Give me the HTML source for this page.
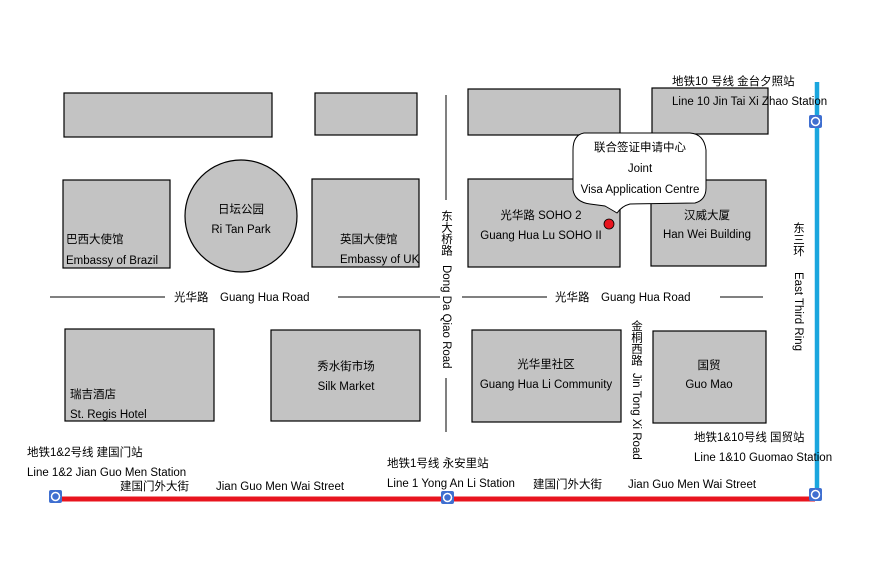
<!DOCTYPE html>
<html><head><meta charset="utf-8"><style>
body{margin:0;background:#fff;}
svg text{font-family:"Liberation Sans","Noto Sans CJK SC",sans-serif;font-size:11.5px;fill:#000;}
</style></head><body>
<svg width="881" height="567" viewBox="0 0 881 567" xmlns="http://www.w3.org/2000/svg">
<g fill="#c3c3c3" stroke="#000" stroke-width="1.2">
<rect x="64" y="93" width="208" height="44"/>
<rect x="315" y="93" width="102" height="42"/>
<rect x="468" y="89" width="152" height="46"/>
<rect x="652" y="88" width="116" height="46"/>
<rect x="63" y="180" width="107" height="88"/>
<circle cx="241" cy="216" r="56"/>
<rect x="312" y="179" width="107" height="88"/>
<rect x="468" y="179" width="152" height="88"/>
<rect x="651" y="180" width="115" height="86"/>
<rect x="65" y="329" width="149" height="92"/>
<rect x="271" y="330" width="149" height="91"/>
<rect x="472" y="330" width="149" height="92"/>
<rect x="653" y="331" width="113" height="92"/>
</g>
<g stroke="#000" stroke-width="1">
<line x1="446" y1="95" x2="446" y2="200"/>
<line x1="446" y1="378" x2="446" y2="432"/>
<line x1="50" y1="297" x2="165" y2="297"/>
<line x1="338" y1="297" x2="440" y2="297"/>
<line x1="462" y1="297" x2="547" y2="297"/>
<line x1="720" y1="297" x2="763" y2="297"/>
</g>
<line x1="817" y1="82" x2="817" y2="497" stroke="#1aa6de" stroke-width="4.5"/>
<line x1="56" y1="499" x2="815" y2="499" stroke="#e8141e" stroke-width="5"/>
<path d="M584,133 Q573,135 573,150 L573,190 Q575,202 590,204 L605,206 Q612,210 617,213 Q622,206 630,204 L695,203 Q706,200 706,188 L706,150 Q704,134 690,133 Z" fill="#fff" stroke="#000" stroke-width="1"/>
<circle cx="609" cy="224" r="5" fill="#e8141e" stroke="#000" stroke-width="0.8"/>
<g text-anchor="middle">
<text x="640" y="151">联合签证申请中心</text>
<text x="640" y="172">Joint</text>
<text x="640" y="193">Visa Application Centre</text>
<text x="241" y="213">日坛公园</text>
<text x="241" y="233">Ri Tan Park</text>
<text x="541" y="219">光华路 SOHO 2</text>
<text x="541" y="239">Guang Hua Lu SOHO II</text>
<text x="707" y="219">汉威大厦</text>
<text x="707" y="238">Han Wei Building</text>
<text x="346" y="370">秀水街市场</text>
<text x="346" y="390">Silk Market</text>
<text x="546" y="368">光华里社区</text>
<text x="546" y="388">Guang Hua Li Community</text>
<text x="709" y="369">国贸</text>
<text x="709" y="388">Guo Mao</text>
</g>
<text x="66" y="243">巴西大使馆</text>
<text x="66" y="264">Embassy of Brazil</text>
<text x="340" y="243">英国大使馆</text>
<text x="340" y="263">Embassy of UK</text>
<text x="70" y="398">瑞吉酒店</text>
<text x="70" y="418">St. Regis Hotel</text>
<text x="174" y="301">光华路</text>
<text x="220" y="301">Guang Hua Road</text>
<text x="555" y="301">光华路</text>
<text x="601" y="301">Guang Hua Road</text>
<text x="672" y="85">地铁10 号线 金台夕照站</text>
<text x="672" y="105">Line 10 Jin Tai Xi Zhao Station</text>
<text x="27" y="456">地铁1&amp;2号线 建国门站</text>
<text x="27" y="476">Line 1&amp;2 Jian Guo Men Station</text>
<text x="120" y="490">建国门外大街</text>
<text x="216" y="490">Jian Guo Men Wai Street</text>
<text x="387" y="467">地铁1号线 永安里站</text>
<text x="387" y="487">Line 1 Yong An Li Station</text>
<text x="533" y="488">建国门外大街</text>
<text x="628" y="488">Jian Guo Men Wai Street</text>
<text x="694" y="441">地铁1&amp;10号线 国贸站</text>
<text x="694" y="461">Line 1&amp;10 Guomao Station</text>
<g>
<text x="446" y="210" writing-mode="tb">东大桥路</text>
<text x="446" y="265" writing-mode="tb">Dong Da Qiao Road</text>
<text x="636" y="320" writing-mode="tb">金桐西路</text>
<text x="636" y="373" writing-mode="tb">Jin Tong Xi Road</text>
<text x="798" y="222" writing-mode="tb">东三环</text>
<text x="798" y="272" writing-mode="tb">East Third Ring</text>
</g>
<g>
<g transform="translate(49,490)"><rect width="13" height="13" rx="2" fill="#3f6fd0"/><circle cx="6.5" cy="6.5" r="4" fill="none" stroke="#fff" stroke-width="1.5"/></g>
<g transform="translate(441,491)"><rect width="13" height="13" rx="2" fill="#3f6fd0"/><circle cx="6.5" cy="6.5" r="4" fill="none" stroke="#fff" stroke-width="1.5"/></g>
<g transform="translate(809,488)"><rect width="13" height="13" rx="2" fill="#3f6fd0"/><circle cx="6.5" cy="6.5" r="4" fill="none" stroke="#fff" stroke-width="1.5"/></g>
<g transform="translate(809,115)"><rect width="13" height="13" rx="2" fill="#3f6fd0"/><circle cx="6.5" cy="6.5" r="4" fill="none" stroke="#fff" stroke-width="1.5"/></g>
</g>
</svg>
</body></html>
